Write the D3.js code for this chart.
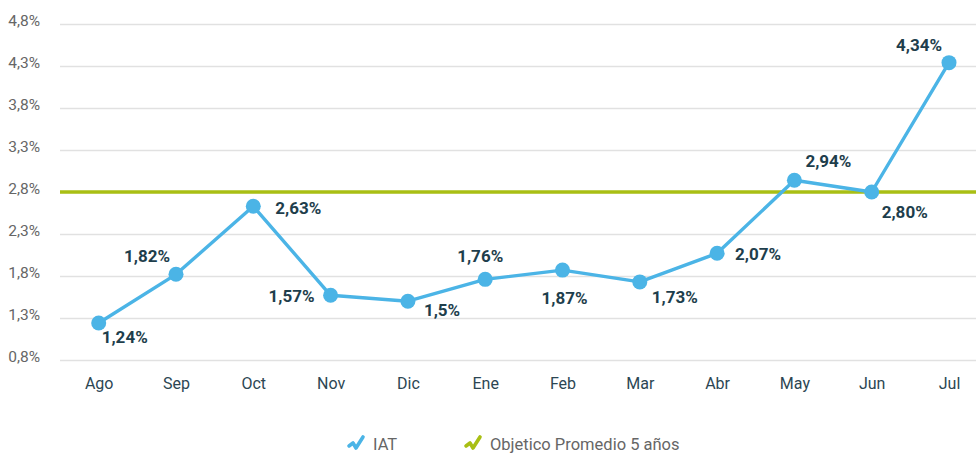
<!DOCTYPE html>
<html>
<head>
<meta charset="utf-8">
<script src="https://cdn.jsdelivr.net/npm/d3@7"></script>
<style>
  html, body { margin: 0; padding: 0; background: #fff; }
  svg { display: block; font-family: Roboto, "Noto Sans", sans-serif; }
</style>
</head>
<body>
<svg id="chart" width="976" height="454"></svg>
<script>
// Monthly IAT rate (%) against the 5-year average target
const months = ["Ago", "Sep", "Oct", "Nov", "Dic", "Ene", "Feb", "Mar", "Abr", "May", "Jun", "Jul"];
const iatValues = [1.24, 1.82, 2.63, 1.57, 1.5, 1.76, 1.87, 1.73, 2.07, 2.94, 2.80, 4.34];
const iatLabels = ["1,24%", "1,82%", "2,63%", "1,57%", "1,5%", "1,76%", "1,87%", "1,73%", "2,07%", "2,94%", "2,80%", "4,34%"];
const targetValue = 2.8;
const yTicks = [0.8, 1.3, 1.8, 2.3, 2.8, 3.3, 3.8, 4.3, 4.8];
const seriesNames = ["IAT", "Objetico Promedio 5 años"];

// Label placement relative to each point: [dx, dy, anchor]
const labelNudge = [
  [3, 20, "start"], [-6, -12, "end"], [22, 8, "start"], [-16, 7, "end"],
  [16, 15, "start"], [-5, -17, "middle"], [2, 34, "middle"], [12, 21, "start"],
  [18, 7, "start"], [11, -13, "start"], [10, 26, "start"], [-7, -12, "end"]
];

const blue = "#4bb4e6";
const green = "#a9bf14";
const font = "Roboto, 'Noto Sans', sans-serif";

const svg = d3.select("#chart");
const plotLeft = 60, plotRight = 976, plotTop = 24, plotBottom = 360;

const x = d3.scalePoint().domain(months).range([98.7, 949]);
const y = d3.scaleLinear().domain([0.8, 4.8]).range([plotBottom, plotTop]);

// Gridlines and y tick labels
const yAxis = d3.axisLeft(y).tickValues(yTicks)
  .tickSize(-(plotRight - plotLeft))
  .tickFormat(d => d3.format(".1f")(d).replace(".", ",") + "%");
const gy = svg.append("g").attr("transform", `translate(${plotLeft},0)`).call(yAxis)
  .attr("font-family", font);
gy.select(".domain").remove();
gy.selectAll(".tick line").attr("stroke", "#e1e1e1").attr("stroke-width", 1.3);
gy.selectAll(".tick text")
  .attr("x", -20).attr("dy", "0.1em")
  .attr("fill", "#666").style("font-size", "15.5px");

// X axis labels
const xAxis = d3.axisBottom(x).tickSize(0).tickPadding(0);
const gx = svg.append("g").attr("transform", `translate(0,${plotBottom})`).call(xAxis)
  .attr("font-family", font);
gx.select(".domain").remove();
gx.selectAll(".tick text")
  .attr("y", 29).attr("dy", 0)
  .attr("fill", "#2c4653").style("font-size", "16px");

// Target line
svg.append("line")
  .attr("x1", plotLeft).attr("x2", plotRight)
  .attr("y1", y(targetValue)).attr("y2", y(targetValue))
  .attr("stroke", green).attr("stroke-width", 3.4);

// IAT line and points
const line = d3.line().x((d, i) => x(months[i])).y(d => y(d));
svg.append("path").datum(iatValues)
  .attr("d", line).attr("fill", "none")
  .attr("stroke", blue).attr("stroke-width", 3.4).attr("stroke-linejoin", "round");

svg.selectAll("circle.pt").data(iatValues).join("circle")
  .attr("class", "pt")
  .attr("cx", (d, i) => x(months[i])).attr("cy", d => y(d))
  .attr("r", 7.5).attr("fill", blue);

// Value labels
svg.selectAll("text.val").data(iatValues).join("text")
  .attr("class", "val")
  .attr("x", (d, i) => x(months[i]) + labelNudge[i][0])
  .attr("y", (d, i) => y(d) + labelNudge[i][1])
  .attr("text-anchor", (d, i) => labelNudge[i][2])
  .attr("fill", "#1e3e4c").style("font-size", "17px").style("font-weight", "bold")
  .text((d, i) => iatLabels[i]);

// Legend
const legend = svg.append("g");
const legendItems = [
  { name: seriesNames[0], color: blue, x: 348 },
  { name: seriesNames[1], color: green, x: 465 }
];
legendItems.forEach(it => {
  const g = legend.append("g").attr("transform", `translate(${it.x},443)`);
  g.append("path")
    .attr("d", "M1,3 L5,0 L8,5 L15,-6")
    .attr("fill", "none").attr("stroke", it.color)
    .attr("stroke-width", 3.6).attr("stroke-linecap", "round").attr("stroke-linejoin", "round");
  g.append("text").attr("x", 25).attr("y", 7)
    .attr("fill", "#666").style("font-size", "16.5px").text(it.name);
});
</script>
</body>
</html>
